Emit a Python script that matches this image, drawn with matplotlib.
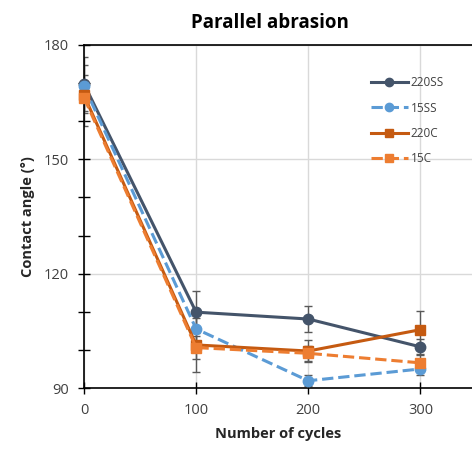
import matplotlib.pyplot as plt
from matplotlib.ticker import MultipleLocator

cycles = [0, 100, 200, 300]
ss220 = [169.8, 109.9, 108.1, 100.8]
ss15 = [169.2, 105.5, 91.9, 95.0]
c220 = [166.8, 101.3, 99.7, 105.3]
c15 = [166.2, 100.6, 99.1, 96.6]

ss220_err = [7, 5.5, 3.5, 2.0]
ss15_err = [3, 4.0, 1.5, 1.5]
c220_err = [8, 7.0, 3.0, 5.0]
c15_err = [4, 3.0, 2.0, 2.0]

labels = ["220SS", "15SS", "220C", "15C"]

DARK = "#44546A"
BLUE = "#5B9BD5"
RUST = "#C55A11"
ORANGE = "#ED7D31"
ERR = "#595959"

plt.rcParams["font.family"] = ["Open Sans", "DejaVu Sans"]

fig = plt.figure(figsize=(4.72, 4.49), dpi=100)
ax = fig.add_axes([84 / 472, 1 - 388 / 449, 1 - 84 / 472, (388 - 45) / 449])

series = [
    (ss220, ss220_err, DARK, "-", "o", labels[0]),
    (ss15, ss15_err, BLUE, "--", "o", labels[1]),
    (c220, c220_err, RUST, "-", "s", labels[2]),
    (c15, c15_err, ORANGE, "--", "s", labels[3]),
]
for vals, err, col, ls, mk, lab in series:
    ax.errorbar(cycles, vals, yerr=err, fmt="none", ecolor=ERR, elinewidth=1,
                capsize=3, capthick=1, zorder=2)
for vals, err, col, ls, mk, lab in series:
    ax.plot(cycles, vals, color=col, linestyle=ls, linewidth=2.2, marker=mk,
            markersize=7.5, label=lab, zorder=3, clip_on=False)

ax.set_xlim(0, 346)
ax.set_ylim(90, 180)
ax.set_xticks(cycles)
ax.yaxis.set_major_locator(MultipleLocator(30))
ax.yaxis.set_minor_locator(MultipleLocator(10))
ax.tick_params(axis="both", which="both", direction="inout", length=8, width=1,
               labelsize=10.5, colors="black", labelcolor="#404040", pad=7)
ax.tick_params(axis="y", which="minor", length=8)
ax.grid(True, which="major", color="#d9d9d9", linewidth=1, zorder=0)
ax.set_axisbelow(True)
ax.spines["right"].set_visible(False)
for side in ["left", "bottom", "top"]:
    ax.spines[side].set_color("black")
    ax.spines[side].set_linewidth(1.2)

ax.set_xlabel("Number of cycles", fontsize=10.5, fontweight="bold", color="#262626",
              labelpad=6)
ax.set_ylabel("Contact angle (°)", fontsize=10.5, fontweight="bold", color="#262626",
              labelpad=6)
ax.set_title("Parallel abrasion", fontsize=13.5, fontweight="bold", pad=12, x=0.48)

ax.legend(loc="upper right", bbox_to_anchor=(0.955, 0.94), frameon=False, fontsize=8.5,
          handlelength=3.2, labelspacing=1.05, handletextpad=0.2, markerscale=0.8,
          labelcolor="#404040")

fig.savefig("out.png", dpi=100)
